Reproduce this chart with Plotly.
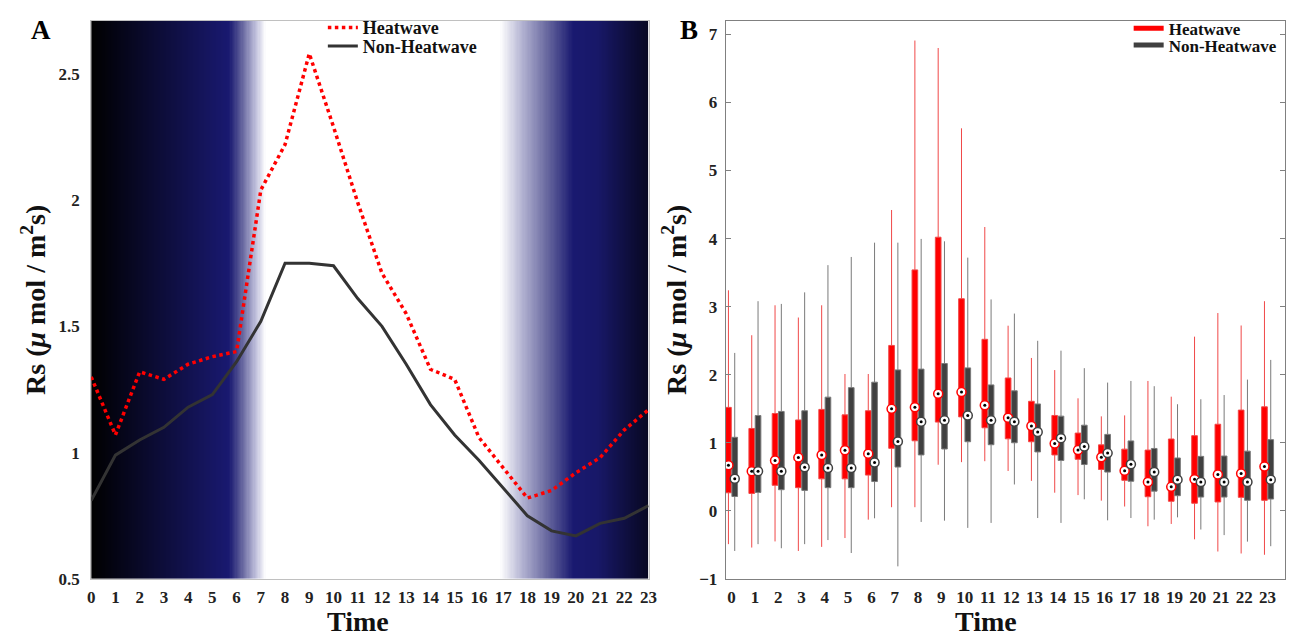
import numpy as np
import plotly.graph_objects as go

# ---------------- data ----------------
hours = list(range(24))
hour_labels = [str(h) for h in hours]

# Panel A: mean hourly Rs
hw_mean = [1.30, 1.07, 1.32, 1.29, 1.35, 1.38, 1.40, 2.04, 2.22, 2.58, 2.29, 1.99,
           1.71, 1.55, 1.33, 1.29, 1.06, 0.94, 0.82, 0.85, 0.92, 0.98, 1.09, 1.17]
nhw_mean = [0.81, 0.99, 1.05, 1.10, 1.18, 1.23, 1.36, 1.52, 1.75, 1.75, 1.74, 1.61,
            1.50, 1.35, 1.19, 1.07, 0.97, 0.86, 0.75, 0.69, 0.67, 0.72, 0.74, 0.79]

# Panel B: box statistics (Heatwave)
hw_q1 = [0.265, 0.255, 0.375, 0.34, 0.47, 0.47, 0.525, 0.918, 1.029, 1.304, 1.38, 1.22,
         1.058, 1.015, 0.821, 0.757, 0.607, 0.448, 0.207, 0.14, 0.111, 0.13, 0.198, 0.154]
hw_med = [0.67, 0.58, 0.74, 0.785, 0.82, 0.89, 0.84, 1.498, 1.522, 1.72, 1.744, 1.55,
          1.367, 1.246, 0.99, 0.892, 0.786, 0.588, 0.424, 0.352, 0.463, 0.535, 0.549, 0.651]
hw_q3 = [1.52, 1.21, 1.43, 1.335, 1.49, 1.41, 1.47, 2.43, 3.54, 4.02, 3.116, 2.52,
         1.952, 1.609, 1.401, 1.142, 0.969, 0.906, 0.892, 1.055, 1.104, 1.272, 1.48, 1.528]
hw_lo = [-0.49, -0.54, -0.45, -0.59, -0.53, -0.40, -0.13, 0.053, 0.053, 0.677, 0.715, 0.729,
         0.585, 0.44, 0.266, 0.231, 0.149, 0.063, -0.227, -0.193, -0.419, -0.598, -0.627, -0.646]
hw_hi = [3.24, 2.58, 3.02, 2.84, 3.02, 2.01, 2.01, 4.42, 6.91, 6.80, 5.62, 4.17,
         2.72, 2.246, 2.068, 1.653, 1.388, 1.402, 1.908, 1.677, 2.559, 2.906, 2.723, 3.08]

# Panel B: box statistics (Non-Heatwave)
nhw_q1 = [0.21, 0.27, 0.31, 0.30, 0.34, 0.34, 0.43, 0.643, 0.821, 0.908, 1.015, 0.971,
          1.0, 0.865, 0.739, 0.68, 0.569, 0.434, 0.289, 0.222, 0.202, 0.202, 0.154, 0.173]
nhw_med = [0.47, 0.58, 0.58, 0.64, 0.63, 0.63, 0.71, 1.019, 1.31, 1.329, 1.401, 1.329,
           1.31, 1.159, 1.068, 0.945, 0.848, 0.684, 0.569, 0.458, 0.424, 0.424, 0.424, 0.458]
nhw_q3 = [1.08, 1.40, 1.46, 1.47, 1.67, 1.81, 1.89, 2.07, 2.082, 2.164, 2.10, 1.85,
          1.763, 1.57, 1.391, 1.258, 1.123, 1.027, 0.916, 0.776, 0.80, 0.805, 0.877, 1.046]
nhw_lo = [-0.59, -0.49, -0.55, -0.49, -0.43, -0.62, -0.11, -0.816, -0.164, -0.145, -0.251, -0.178,
          0.387, -0.106, -0.178, 0.169, -0.14, -0.106, -0.13, -0.096, -0.275, -0.357, -0.453, -0.52]
nhw_hi = [2.32, 3.08, 3.04, 3.21, 3.61, 3.73, 3.94, 3.94, 3.995, 3.96, 3.72, 3.106,
          2.898, 2.498, 2.353, 2.096, 1.884, 1.908, 1.831, 1.566, 1.639, 1.701, 1.928, 2.217]

# ---------------- styling ----------------
W, H = 1294, 635
FONT = "Liberation Serif"
RED = "#ff0000"
DARK = "#333333"
BOXDARK = "#404040"

def px_x(p):
    return p / W

def px_y(p):
    return 1 - p / H

domA_x = [px_x(80), px_x(643)]
domB_x = [px_x(721), px_x(1286)]
dom_y = [px_y(580), px_y(13)]

fig = go.Figure()

# ---- Panel A background (night/day gradient) ----
edges = np.linspace(0, 23, 461)
centers = (edges[:-1] + edges[1:]) / 2
bg_scale = [
    [0.0, "#000000"],
    [5.7 / 23, "#191970"],
    [6.25 / 23, "#6868a0"],
    [6.8 / 23, "#c0c0dc"],
    [7.2 / 23, "#ffffff"],
    [16.88 / 23, "#ffffff"],
    [17.83 / 23, "#b0b0d0"],
    [18.8 / 23, "#6a6aa0"],
    [19.9 / 23, "#191970"],
    [20.9 / 23, "#181868"],
    [1.0, "#080822"],
]
fig.add_trace(go.Heatmap(
    x=edges, y=[0.5, 2.71], z=[centers], zmin=0, zmax=23,
    colorscale=bg_scale, showscale=False, hoverinfo="skip",
    xaxis="x", yaxis="y",
))

fig.add_trace(go.Scatter(
    x=hours, y=hw_mean, mode="lines", name="Heatwave",
    line=dict(color=RED, width=3.5, dash="dot"),
    xaxis="x", yaxis="y", legend="legend",
))
fig.add_trace(go.Scatter(
    x=hours, y=nhw_mean, mode="lines", name="Non-Heatwave",
    line=dict(color=DARK, width=3),
    xaxis="x", yaxis="y", legend="legend2",
))

# ---- Panel B boxes ----
BOXGAP = 0.46
BOXGROUPGAP = 0.1
off = (1 - BOXGAP) / 4

fig.add_trace(go.Box(
    x=hours, q1=hw_q1, median=hw_med, q3=hw_q3, lowerfence=hw_lo, upperfence=hw_hi,
    name="Heatwave", fillcolor=RED, line=dict(color="#f04848", width=1),
    whiskerwidth=0, boxpoints=False, showlegend=False, offsetgroup="hw",
    xaxis="x2", yaxis="y2",
))
fig.add_trace(go.Box(
    x=hours, q1=nhw_q1, median=nhw_med, q3=nhw_q3, lowerfence=nhw_lo, upperfence=nhw_hi,
    name="Non-Heatwave", fillcolor=BOXDARK, line=dict(color="#7a7a7a", width=1),
    whiskerwidth=0, boxpoints=False, showlegend=False, offsetgroup="nhw",
    xaxis="x2", yaxis="y2",
))

# median markers
hw_x = [h - off for h in hours]
nhw_x = [h + off for h in hours]
for xs, ys, col in [(hw_x, hw_med, RED), (nhw_x, nhw_med, BOXDARK)]:
    fig.add_trace(go.Scatter(
        x=xs, y=ys, mode="markers", showlegend=False, hoverinfo="skip",
        marker=dict(symbol="circle", size=9, color="white", line=dict(color=col, width=1.5)),
        xaxis="x2", yaxis="y2",
    ))
    fig.add_trace(go.Scatter(
        x=xs, y=ys, mode="markers", showlegend=False, hoverinfo="skip",
        marker=dict(symbol="circle", size=3, color="black"),
        xaxis="x2", yaxis="y2",
    ))

# legend entries for panel B
fig.add_trace(go.Scatter(
    x=[None], y=[None], mode="lines", name="Heatwave",
    line=dict(color=RED, width=5), xaxis="x2", yaxis="y2", legend="legend3",
))
fig.add_trace(go.Scatter(
    x=[None], y=[None], mode="lines", name="Non-Heatwave",
    line=dict(color=BOXDARK, width=5), xaxis="x2", yaxis="y2", legend="legend4",
))

tickfont = dict(family=FONT, size=17, color="#222222", weight="bold")
titlefont = dict(family=FONT, size=28, color="#111111", weight="bold")
ytitle = "Rs (<i>μ</i> mol / m<sup>2</sup>s)"
legfontA = dict(family=FONT, size=18, color="#111111", weight="bold")
legfontB = dict(family=FONT, size=17, color="#111111", weight="bold")

def leg(xp, yp, font):
    return dict(x=px_x(xp), y=px_y(yp), xanchor="left", yanchor="middle",
                bgcolor="rgba(0,0,0,0)", font=font, itemwidth=30,
                tracegroupgap=0)

def label(text, xp, yp, font):
    return dict(text=text, x=px_x(xp), y=px_y(yp), xref="paper", yref="paper",
                xanchor="center", yanchor="middle", showarrow=False, font=font)

panel_font = dict(family=FONT, size=27, color="black", weight="bold")

fig.update_layout(
    width=W, height=H,
    margin=dict(l=0, r=0, t=0, b=0),
    paper_bgcolor="white", plot_bgcolor="white",
    boxmode="group", boxgap=BOXGAP, boxgroupgap=BOXGROUPGAP,
    xaxis=dict(
        domain=domA_x, range=[0, 23], tickvals=hours, ticktext=hour_labels,
        showgrid=False, zeroline=False, showline=True, linecolor="#c0c0c0", linewidth=1,
        mirror=True, ticks="", tickfont=tickfont, ticklabelstandoff=3,
        anchor="y",
    ),
    yaxis=dict(
        domain=dom_y, range=[0.5, 2.71], tickvals=[0.5, 1, 1.5, 2, 2.5],
        ticktext=["0.5", "1", "1.5", "2", "2.5"],
        showgrid=False, zeroline=False, showline=True, linecolor="#c0c0c0", linewidth=1,
        mirror=True, ticks="", tickfont=tickfont, ticklabelstandoff=7,
        title=dict(text=ytitle, font=titlefont, standoff=4),
        anchor="x",
    ),
    xaxis2=dict(
        domain=domB_x, range=[-0.25, 23.75], tickvals=hours, ticktext=hour_labels,
        showgrid=False, zeroline=False, showline=True, linecolor="#808080", linewidth=1,
        mirror=True, ticks="", tickfont=tickfont, ticklabelstandoff=3,
        anchor="y2",
    ),
    yaxis2=dict(
        domain=dom_y, range=[-1, 7.2], tickvals=list(range(-1, 8)),
        showgrid=False, zeroline=False, showline=True, linecolor="#808080", linewidth=1,
        mirror="ticks", ticks="inside", ticklen=5, tickcolor="#808080",
        tickfont=tickfont, ticklabelstandoff=4,
        title=dict(text=ytitle, font=titlefont, standoff=4),
        anchor="x2",
    ),
    legend=leg(314, 20, legfontA),
    legend2=leg(314, 39, legfontA),
    legend3=leg(1128, 21, legfontB),
    legend4=leg(1128, 38, legfontB),
    annotations=[
        label("A", 29, 22, panel_font),
        label("B", 684, 22, panel_font),
        label("Time", 350, 623, titlefont),
        label("Time", 984, 623, titlefont),
    ],
)

fig.write_html("out.html")
